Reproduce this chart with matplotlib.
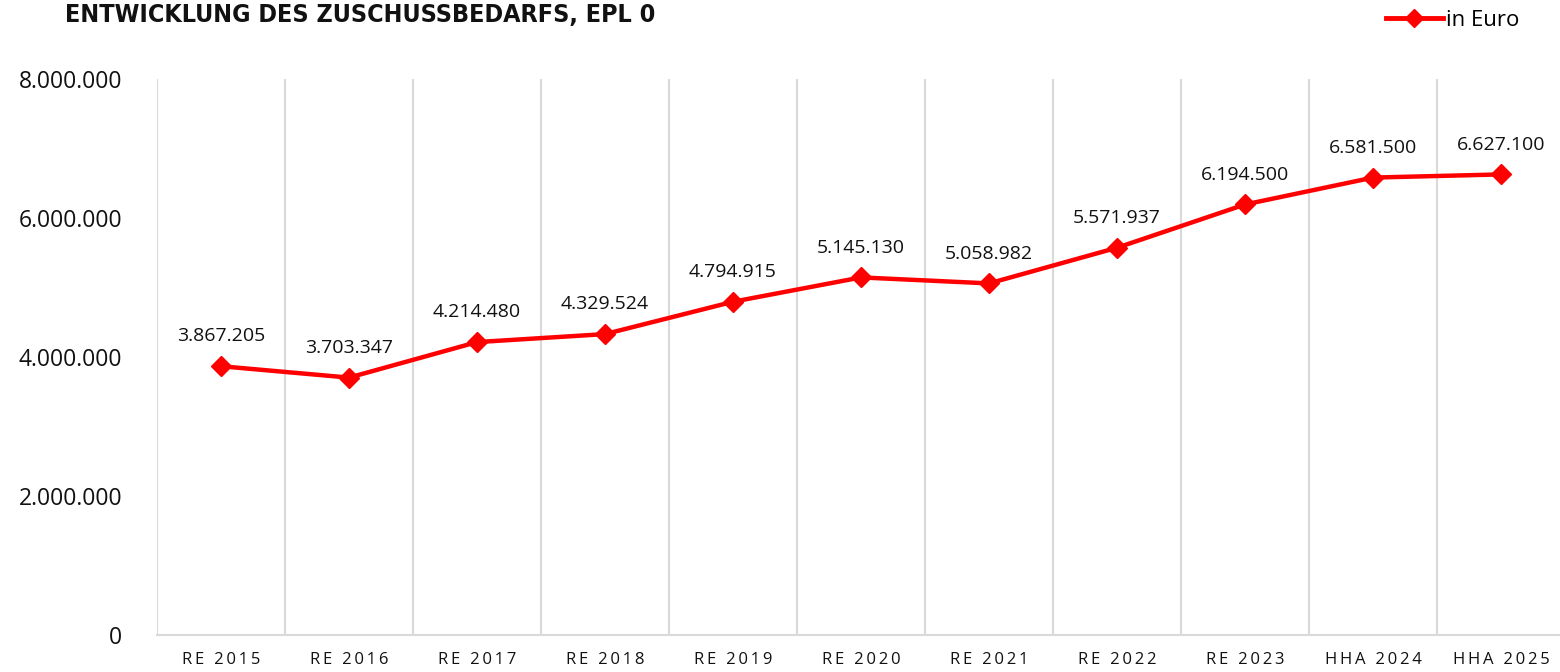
import matplotlib.pyplot as plt
from matplotlib.lines import Line2D

# Data
categories = ["RE 2015", "RE 2016", "RE 2017", "RE 2018", "RE 2019", "RE 2020",
              "RE 2021", "RE 2022", "RE 2023", "HHA 2024", "HHA 2025"]
values = [3867205, 3703347, 4214480, 4329524, 4794915, 5145130,
          5058982, 5571937, 6194500, 6581500, 6627100]
yticks = [0, 2000000, 4000000, 6000000, 8000000]
title = "ENTWICKLUNG DES ZUSCHUSSBEDARFS, EPL 0"

plt.rcParams['font.family'] = ['Open Sans', 'DejaVu Sans']

def fmt(v):
    return f"{v:,}".replace(",", ".")

def spaced(s):
    # wide letter spacing like the reference axis labels
    return "\u2009".join(s)

fig = plt.figure(figsize=(15.6, 6.72), dpi=100)
ax = fig.add_axes([157 / 1560, 37 / 672, 1408 / 1560, 556 / 672])

x = list(range(len(categories)))
red = "#ff0000"
ax.plot(x, values, color=red, linewidth=3.2, marker="D", markersize=10,
        markerfacecolor=red, markeredgecolor=red, zorder=3)

for xi, v in zip(x, values):
    ax.annotate(fmt(v), (xi, v), xytext=(0, 15), textcoords="offset points",
                ha="center", va="bottom", fontsize=14, color="#111111")

ax.set_xlim(-0.5, len(categories) - 0.5)
ax.set_ylim(0, 8000000)
ax.set_yticks(yticks)
ax.set_yticklabels([fmt(v) for v in yticks], fontsize=16.5, color="#111111")
ax.set_xticks(x)
ax.set_xticklabels([spaced(c) for c in categories], fontsize=12, color="#111111")
ax.tick_params(axis="both", length=0)
ax.tick_params(axis="y", pad=25)
ax.tick_params(axis="x", pad=12)

# vertical grid lines at category boundaries
for b in [i - 0.5 for i in range(len(categories) + 1)]:
    ax.axvline(b, color="#d9d9d9", linewidth=1.5, zorder=1)

for s in ["top", "right", "left"]:
    ax.spines[s].set_visible(False)
ax.spines["bottom"].set_color("#d9d9d9")
ax.spines["bottom"].set_linewidth(1.5)

# legend
handle = Line2D([], [], color=red, linewidth=3.5, marker="D", markersize=9)
fig.legend([handle], ["in Euro"], loc="center right", bbox_to_anchor=(1530 / 1560, 1 - 20 / 672),
           frameon=False, fontsize=16, handlelength=2.6, handletextpad=0.1, borderpad=0)

# title at the top left
fig.text(655 / 1560, 1 - 3 / 672, title,
         ha="right", va="top", fontsize=18, fontweight="bold", fontstretch="condensed",
         family=["DejaVu Sans"], color="#111111")

fig.savefig("out.png", dpi=100)
